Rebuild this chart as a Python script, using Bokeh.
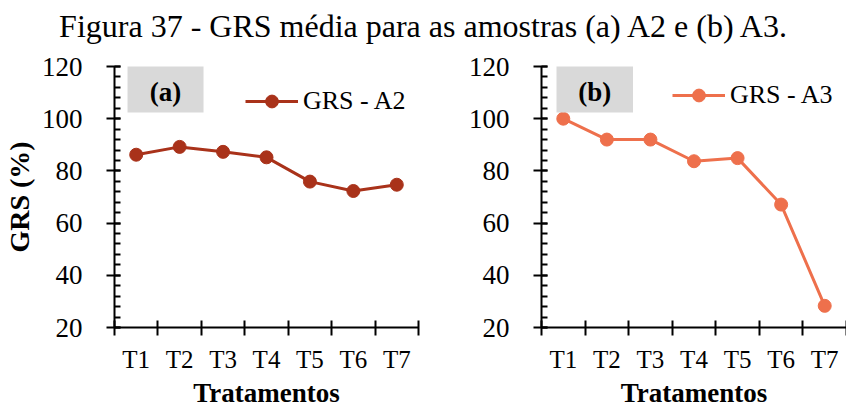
from bokeh.plotting import figure
from bokeh.models import (FixedTicker, SingleIntervalTicker, Legend, LegendItem,
                          BoxAnnotation, Label, Div, Range1d)
from bokeh.layouts import column, row
from bokeh.embed import file_html
from bokeh.resources import INLINE

# ---- data ----
categories = ["T1", "T2", "T3", "T4", "T5", "T6", "T7"]
grs_a2 = [86.2, 89.2, 87.3, 85.2, 75.9, 72.3, 74.7]
grs_a3 = [100.0, 92.0, 92.0, 83.7, 84.9, 67.1, 28.3]
title_text = "Figura 37 - GRS média para as amostras (a) A2 e (b) A3."
y_ticks_major = 20

SERIF = "Liberation Serif"
COL_A2 = "#A9321A"
COL_A3 = "#EE704C"

xs = [i + 0.5 for i in range(len(categories))]
overrides = {x: c for x, c in zip(xs, categories)}


def make_panel(vals, color, label, tag, width, border_left, border_right,
               legend_loc, y_title):
    p = figure(width=width, height=364, output_backend="svg",
               toolbar_location=None,
               x_range=Range1d(0, len(categories)), y_range=Range1d(20, 120),
               min_border_left=border_left, min_border_right=border_right,
               min_border_top=20, min_border_bottom=82)
    p.outline_line_color = None
    p.xgrid.visible = False
    p.ygrid.visible = False

    # x axis
    xa = p.xaxis[0]
    xa.ticker = FixedTicker(ticks=xs, minor_ticks=list(range(len(categories) + 1)))
    xa.major_label_overrides = overrides
    xa.major_tick_in = 0
    xa.major_tick_out = 0
    xa.minor_tick_in = 7
    xa.minor_tick_out = 8
    xa.minor_tick_line_width = 2
    xa.minor_tick_line_color = "black"
    xa.axis_line_width = 2
    xa.axis_line_color = "black"
    xa.major_label_text_font = SERIF
    xa.major_label_text_font_size = "25px"
    xa.major_label_text_color = "black"
    xa.major_label_standoff = 10
    xa.axis_label = "Tratamentos"
    xa.axis_label_text_font = SERIF
    xa.axis_label_text_font_style = "bold"
    xa.axis_label_text_font_size = "27px"
    xa.axis_label_text_color = "black"
    xa.axis_label_standoff = 2

    # y axis
    ya = p.yaxis[0]
    ya.ticker = SingleIntervalTicker(interval=y_ticks_major, num_minor_ticks=5)
    ya.major_tick_in = 6
    ya.major_tick_out = 8
    ya.minor_tick_in = 6
    ya.minor_tick_out = 0
    ya.major_tick_line_width = 2
    ya.minor_tick_line_width = 2
    ya.major_tick_line_color = "black"
    ya.minor_tick_line_color = "black"
    ya.axis_line_width = 2
    ya.axis_line_color = "black"
    ya.major_label_text_font = SERIF
    ya.major_label_text_font_size = "27px"
    ya.major_label_text_color = "black"
    ya.major_label_standoff = 24
    if y_title:
        ya.axis_label = y_title
        ya.axis_label_text_font = SERIF
        ya.axis_label_text_font_style = "bold"
        ya.axis_label_text_font_size = "28px"
        ya.axis_label_text_color = "black"
        ya.axis_label_standoff = 4

    # grey tag box
    box = BoxAnnotation(left=tag[1], right=tag[2], bottom=102.4, top=121.8,
                        fill_color="#D9D9D9", fill_alpha=1.0, line_color=None)
    p.add_layout(box)
    p.add_layout(Label(x=(tag[1] + tag[2]) / 2, y=110.3, text=tag[0],
                       text_font=SERIF, text_font_style="bold",
                       text_font_size="27px", text_align="center",
                       text_baseline="middle", text_color="black"))

    ln = p.line(xs, vals, line_color=color, line_width=3)
    sc = p.scatter(xs, vals, size=13, fill_color=color, line_color=color)

    leg = Legend(items=[LegendItem(label=label, renderers=[ln, sc])],
                 location=legend_loc, padding=0, margin=0, spacing=0,
                 glyph_width=53, glyph_height=32, label_height=32,
                 label_standoff=5, border_line_color=None,
                 background_fill_alpha=0,
                 label_text_font=SERIF, label_text_font_size="26px",
                 label_text_color="black")
    p.add_layout(leg)
    return p


# left: frame 112..418 ; right: frame 541..846
p1 = make_panel(grs_a2, COL_A2, "GRS - A2", ("(a)", 0.30, 2.05), 440, 112, 22,
                (131, 210), "GRS (%)")
p2 = make_panel(grs_a3, COL_A3, "GRS - A3", ("(b)", 0.344, 2.10), 406, 101, 0,
                (131, 216), None)

title = Div(text=title_text, width=846, height=46, margin=0,
            styles={"font-family": SERIF, "font-size": "32px", "text-align": "center",
                    "color": "black", "line-height": "52px", "height": "46px",
                    "width": "846px", "white-space": "nowrap"})

layout = column(title, row(p1, p2, spacing=0), spacing=0)

open("out.html", "w").write(file_html(layout, INLINE))
